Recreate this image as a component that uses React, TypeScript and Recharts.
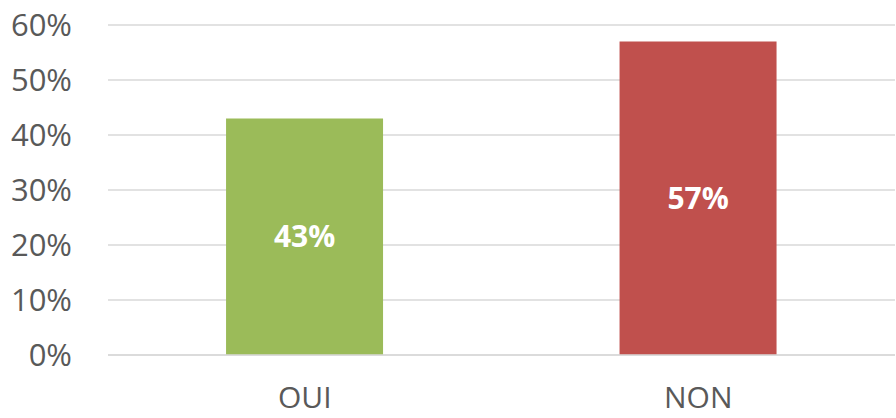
import React from 'react';
import { BarChart, Bar, XAxis, YAxis, CartesianGrid, Cell, LabelList } from 'recharts';

const categories = ['OUI', 'NON'];
const values = [43, 57];
const colors = ['#9BBB59', '#C0504D'];
const yTicks = [0, 10, 20, 30, 40, 50, 60];

const data = categories.map((name, i) => ({ name, value: values[i] }));

const font = '"Open Sans", "Noto Sans", sans-serif';

const App: React.FC = () => {
    return (
        <div style={{ position: 'absolute', left: 0, top: 0, fontFamily: font }}>
            <BarChart
                width={896}
                height={418}
                data={data}
                margin={{ top: 25, right: 1, left: 0, bottom: 0 }}
                barCategoryGap="30%"
            >
                <CartesianGrid vertical={false} stroke="#d9d9d9" strokeWidth={1.5} />
                <XAxis
                    dataKey="name"
                    height={63}
                    tickLine={false}
                    tickSize={0}
                    tickMargin={32}
                    axisLine={{ stroke: '#d9d9d9', strokeWidth: 1.5 }}
                    tick={{ fill: '#595959', fontSize: 30, fontFamily: font }}
                />
                <YAxis
                    width={108}
                    domain={[0, 60]}
                    ticks={yTicks}
                    interval={0}
                    axisLine={false}
                    tickLine={false}
                    tickSize={0}
                    tickMargin={36}
                    tickFormatter={(v: number) => `${v}%`}
                    tick={{ fill: '#595959', fontSize: 31, fontFamily: font }}
                />
                <Bar dataKey="value" isAnimationActive={false}>
                    {data.map((d, i) => (
                        <Cell key={d.name} fill={colors[i]} />
                    ))}
                    <LabelList
                        dataKey="value"
                        position="center"
                        formatter={(v: number) => `${v}%`}
                        fill="#ffffff"
                        fontSize={30}
                        fontWeight="bold"
                        fontFamily={font}
                    />
                </Bar>
            </BarChart>
        </div>
    );
};

export default App;
